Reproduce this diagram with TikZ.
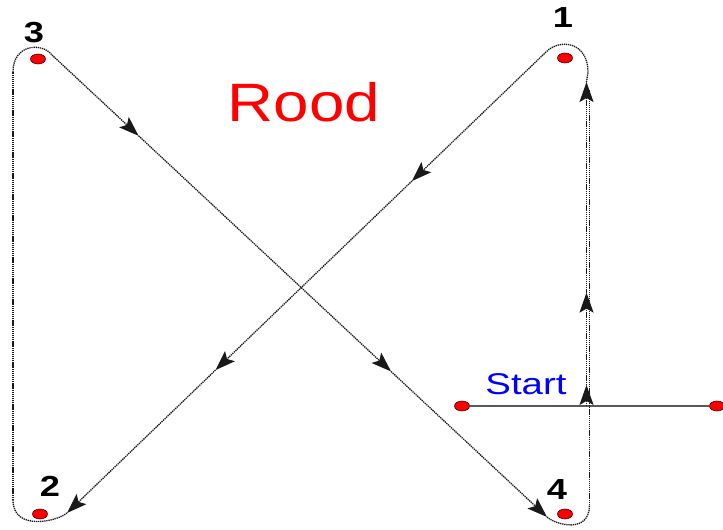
\documentclass[tikz,border=0pt]{standalone}
\usepackage{fontspec}
\setmainfont{Liberation Sans}
\usetikzlibrary{arrows.meta,shapes.geometric,calc}
\begin{document}
\begin{tikzpicture}[x=1pt, y=-1pt,
    dot/.style={ellipse, draw=black!70!red, line width=0.6pt, fill=red, minimum width=15pt, minimum height=10pt, inner sep=0pt},
    num/.style={font=\fontsize{29}{30}\selectfont\bfseries, xscale=1.25, inner sep=0pt},
    route/.style={black!90, line width=1.3pt, dash pattern=on 1.3pt off 0.8pt},
    arr/.style={route, -{Stealth[length=20pt, width=14pt, inset=4pt]}}]
    \useasboundingbox (0,0) rectangle (723,530);

    % Points
    \node[dot] (p1) at (565,58) {};
    \node[dot] (p2) at (40,514) {};
    \node[dot] (p3) at (38,59) {};
    \node[dot] (p4) at (565,514) {};
    \node[dot] (s1) at (462,406) {};
    \node[dot] (s2) at (717,406) {};

    % Labels
    \node[num] (l1) at (563,18) {1};
    \node[num] (l2) at (50,486) {2};
    \node[num] (l3) at (34,33) {3};
    \node[num] (l4) at (557,490) {4};
    \node[text=red, font=\fontsize{54}{56}\selectfont, xscale=1.18, inner sep=0pt] (rood) at (304,102.5) {Rood};
    \node[text=blue, font=\fontsize{30}{32}\selectfont, xscale=1.28, inner sep=0pt] (start) at (526,384) {Start};

    % Start line
    \draw[black!65, line width=1.4pt] (s1) -- (s2);

    % Route coordinates
    \coordinate (st) at (586.5,406);
    \coordinate (up1) at (586.5,82);
    \coordinate (d1a) at (546,52);
    \coordinate (d1b) at (67,513);
    \coordinate (lf2) at (13,500);
    \coordinate (lf3) at (13,72);
    \coordinate (d2a) at (52,55);
    \coordinate (d2b) at (547,517);
    \coordinate (rt4) at (589.5,505);

    % Route: start -> 1 -> 2 -> 3 -> 4 -> back up
    \draw[arr] (st) -- ($(st)!0.065!(up1)$);
    \draw[arr] ($(st)!0.065!(up1)$) -- ($(st)!0.35!(up1)$);
    \draw[arr] ($(st)!0.35!(up1)$) -- (up1);
    \draw[route] (rt4) -- (589.5,90);
    \draw[route] (up1) -- (588,72) .. controls (588,42) and (560,38) .. (d1a);
    \draw[arr] (d1a) -- ($(d1a)!0.28!(d1b)$);
    \draw[arr] ($(d1a)!0.28!(d1b)$) -- ($(d1a)!0.69!(d1b)$);
    \draw[arr] ($(d1a)!0.69!(d1b)$) -- (d1b);
    \draw[route] (d1b) .. controls (58,521) and (13,532) .. (lf2);
    \draw[route] (lf2) -- (lf3);
    \draw[route] (lf3) .. controls (13,44) and (42,42) .. (d2a);
    \draw[arr] (d2a) -- ($(d2a)!0.175!(d2b)$);
    \draw[arr] ($(d2a)!0.175!(d2b)$) -- ($(d2a)!0.685!(d2b)$);
    \draw[arr] ($(d2a)!0.685!(d2b)$) -- (d2b);
    \draw[route] (d2b) .. controls (556,525) and (589.5,534) .. (rt4);
\end{tikzpicture}
\end{document}
